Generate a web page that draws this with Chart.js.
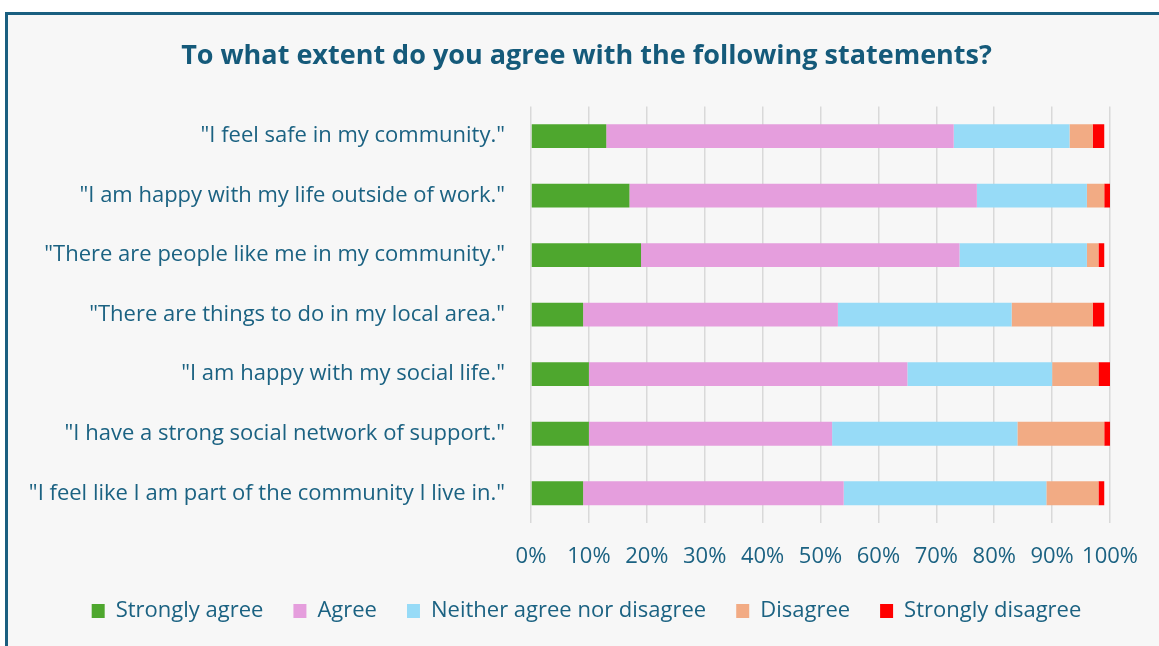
<!DOCTYPE html>
<html>
<head>
<meta charset="utf-8">
<script src="https://cdn.jsdelivr.net/npm/chart.js@4/dist/chart.umd.min.js"></script>
<style>
  html, body { margin: 0; padding: 0; background: #ffffff; }
  #frame {
    position: absolute; left: 5px; top: 12px; width: 1170px; height: 660px;
    border: 3px solid #1a5f80; background: #f7f7f7;
  }
  #wrap { position: absolute; left: 0; top: 0; width: 1159px; height: 646px; }
</style>
</head>
<body>
<div id="frame"></div>
<div id="wrap"><canvas id="chartStatements" width="1159" height="646"></canvas></div>
<script>
// ---- datos del gráfico ----
const categories = [
  '"I feel safe in my community."',
  '"I am happy with my life outside of work."',
  '"There are people like me in my community."',
  '"There are things to do in my local area."',
  '"I am happy with my social life."',
  '"I have a strong social network of support."',
  '"I feel like I am part of the community I live in."'
];
const seriesNames = ['Strongly agree', 'Agree', 'Neither agree nor disagree', 'Disagree', 'Strongly disagree'];
const stronglyAgree    = [13, 17, 19,  9, 10, 10,  9];
const agree            = [60, 60, 55, 44, 55, 42, 45];
const neither          = [20, 19, 22, 30, 25, 32, 35];
const disagree         = [ 4,  3,  2, 14,  8, 15,  9];
const stronglyDisagree = [ 2,  1,  1,  2,  2,  1.4, 1];
const xTicks = [0, 10, 20, 30, 40, 50, 60, 70, 80, 90, 100];

const colores = ['#4ea72e', '#e59edd', '#97dbf7', '#f2ab84', '#ff0000'];
const textColor = '#1b6282';
const FONT = 'Open Sans';

const allSeries = [stronglyAgree, agree, neither, disagree, stronglyDisagree];

new Chart(document.getElementById('chartStatements').getContext('2d'), {
  type: 'bar',
  data: {
    labels: categories,
    datasets: allSeries.map((vals, i) => ({
      label: seriesNames[i],
      data: vals,
      backgroundColor: colores[i],
      borderWidth: 0,
      categoryPercentage: 0.8,
      barPercentage: 0.5
    }))
  },
  options: {
    indexAxis: 'y',
    responsive: false,
    animation: false,
    layout: { padding: { left: 14, right: 0, top: 40, bottom: 14 } },
    scales: {
      x: {
        stacked: true, min: 0, max: 100,
        afterBuildTicks: (s) => { s.ticks = xTicks.map(v => ({ value: v })); },
        afterFit: (s) => { s.height = 47; },
        grid: { color: '#d9d9d9', lineWidth: 1.5, drawTicks: false },
        border: { display: false },
        ticks: {
          color: textColor, font: { family: FONT, size: 22 }, padding: 21,
          maxRotation: 0, minRotation: 0, autoSkip: false,
          callback: v => v + '%'
        }
      },
      y: {
        stacked: true,
        afterFit: (s) => { s.width = 531 - 14; },
        grid: { display: false, drawTicks: false },
        border: { display: false },
        ticks: { color: textColor, font: { family: FONT, size: 22 }, padding: 26 }
      },
      // eje vacío a la derecha: solo reserva espacio para que el título quede centrado
      yRight: {
        type: 'linear', position: 'right',
        afterFit: (s) => { s.width = 45; },
        grid: { display: false, drawTicks: false },
        border: { display: false },
        ticks: { display: false }
      }
    },
    plugins: {
      title: {
        display: true,
        text: 'To what extent do you agree with the following statements?',
        color: '#155a7a',
        font: { family: FONT, size: 27, weight: 'bold' },
        padding: { top: 0, bottom: 34 }
      },
      legend: {
        position: 'bottom',
        labels: { color: textColor, font: { family: FONT, size: 22 }, boxWidth: 13, boxHeight: 14, padding: 30 }
      },
      tooltip: { enabled: false }
    }
  }
});
</script>
</body>
</html>
